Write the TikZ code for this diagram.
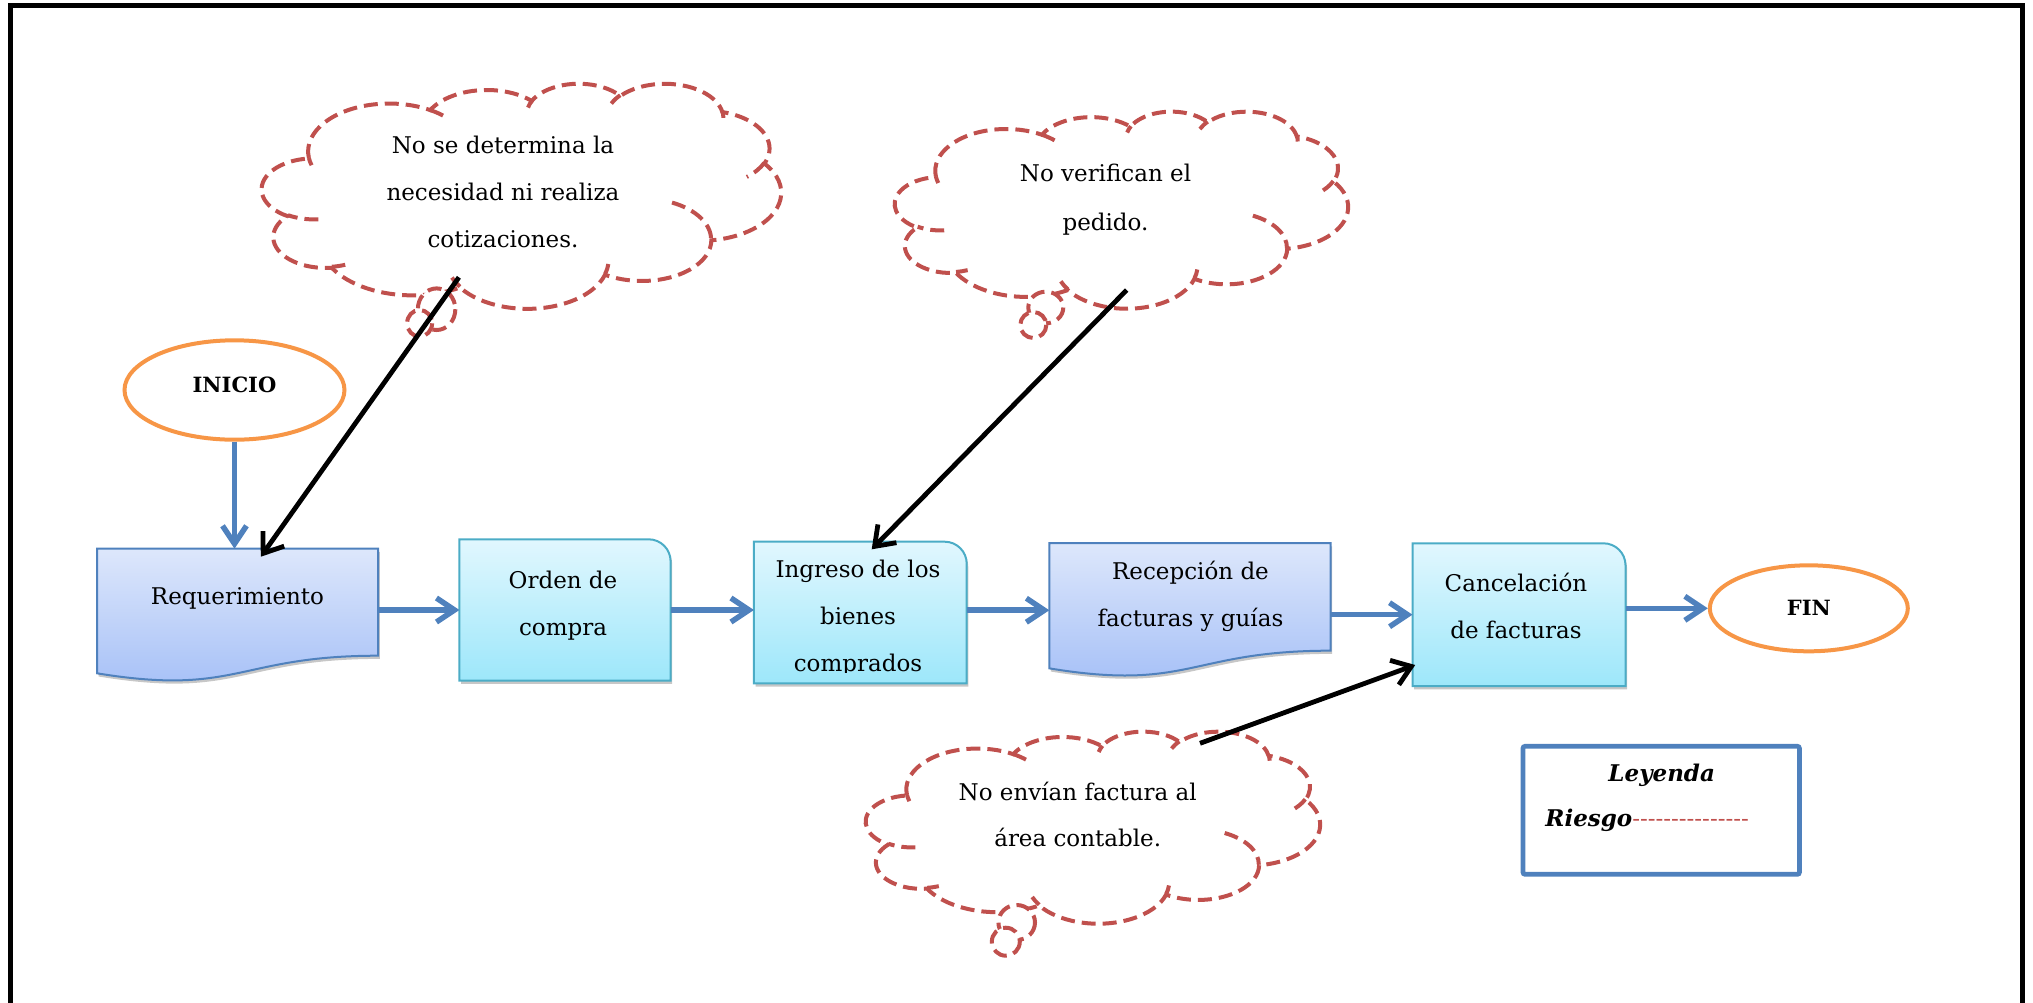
\documentclass[tikz,border=0pt]{standalone}
\usepackage{fontspec}
\setmainfont{DejaVu Serif}
\usetikzlibrary{arrows.meta,shapes.geometric,shadows,calc}

\definecolor{riskred}{HTML}{C0504D}
\definecolor{flowblue}{HTML}{4F81BD}
\definecolor{termorange}{HTML}{F79646}
\definecolor{doctop}{HTML}{DDE7FB}
\definecolor{docbot}{HTML}{A3BEF7}
\definecolor{procedge}{HTML}{4BACC6}
\definecolor{proctop}{HTML}{E1F7FE}
\definecolor{procbot}{HTML}{9DE7FA}

% one elliptical arc; start angle and sweep are visual angles
\newcommand\cloudarc[4]{%
  \pgfextra{%
    \pgfmathsetmacro\arcts{atan2((#1)*sin(#3),(#2)*cos(#3))}%
    \pgfmathsetmacro\arcte{atan2((#1)*sin((#3)+(#4)),(#2)*cos((#3)+(#4)))}%
    \pgfmathsetmacro\arcdt{mod(\arcte-\arcts+720,360)}%
    \global\let\arcts\arcts\global\let\arcdt\arcdt}%
  arc[start angle=\arcts, delta angle=\arcdt, x radius=#1, y radius=#2]}

% dashed thought cloud in the box (x0,y0) with width w and height h
\newcommand\riskcloud[4]{%
  \pgfmathsetmacro\cux{(#3)*0.5/43.2}%
  \pgfmathsetmacro\cuy{(#4)*0.5/43.2}%
  \begin{scope}[shift={(#1,#2)}, x=\cux pt, y=-\cuy pt]
    \path[cloudline, fill=white] (3.9,14.37)
      \cloudarc{6.753}{9.190}{-190.4875}{123.7805}
      \cloudarc{5.333}{7.267}{-144.1024}{89.9452}
      \cloudarc{4.365}{5.945}{-145.8079}{99.7230}
      \cloudarc{4.857}{6.595}{-130.9861}{117.2417}
      \cloudarc{5.333}{7.273}{-78.7089}{109.0269}
      \cloudarc{6.775}{9.220}{-46.2673}{130.2690}
      \cloudarc{5.785}{7.867}{0.6250}{114.0333}
      \cloudarc{6.752}{9.215}{22.4516}{115.1726}
      \cloudarc{7.720}{10.543}{66.2426}{75.7110}
      \cloudarc{4.360}{5.918}{-274.9421}{146.7356}
      \cloudarc{4.345}{5.945}{-246.8285}{152.5189}
      -- cycle;
    \path[cloudline]
      (4.693,26.177) \cloudarc{4.345}{5.945}{86.7420}{26.4295}
      (6.928,34.899) \cloudarc{4.360}{5.918}{73.6105}{11.4475}
      (16.478,39.090) \cloudarc{6.752}{9.215}{137.6242}{14.0811}
      (28.827,34.751) \cloudarc{6.752}{9.215}{6.4533}{15.9984}
      (34.129,22.954) \cloudarc{5.785}{7.867}{-70.2924}{70.9174}
      (41.798,15.354) \cloudarc{5.333}{7.273}{30.3180}{27.7515}
      (38.324,5.426) \cloudarc{4.857}{6.595}{-13.7443}{14.8589}
      (29.078,3.952) \cloudarc{4.857}{6.595}{-149.1815}{18.1954}
      (22.141,4.720) \cloudarc{4.365}{5.945}{-163.4943}{17.6864}
      (14.000,5.192) \cloudarc{6.753}{9.190}{-66.7070}{12.3194}
      (4.127,15.789) \cloudarc{6.753}{9.190}{157.6544}{11.8582};
  \end{scope}}

% flowchart document outline (wavy bottom) over a rectangular node
\newcommand\docoutline[1]{%
  (#1.north west) -- (#1.north east)
  -- ($(#1.north east)!0.802!(#1.south east)$)
  .. controls ($(#1.north)!0.802!(#1.south)$) and ($(#1.north)!1.1075!(#1.south)$)
  .. ($(#1.north west)!0.9339!(#1.south west)$) -- cycle}

% rectangle with one rounded (top right) corner
\newcommand\procoutline[1]{%
  (#1.south west) -- (#1.north west) -- ([xshift=-11pt]#1.north east)
  arc[start angle=90, end angle=0, radius=11pt] -- (#1.south east) -- cycle}

\newcommand\linesc[1]{\begin{tabular}[t]{@{}c@{}}#1\end{tabular}}

\tikzset{
  cloudline/.style={draw=riskred, line width=2pt, dash pattern=on 7pt off 3.5pt},
  flow/.style={draw=flowblue, line width=2.75pt, line join=miter,
    -{Straight Barb[length=9pt,width=12pt]}},
  risk/.style={draw=black, line width=2.4pt, line join=miter,
    -{Straight Barb[length=9pt,width=13pt]}},
  terminal/.style={ellipse, draw=termorange, line width=2pt, fill=white,
    inner sep=0pt, font=\fontsize{10.5}{12}\selectfont\bfseries},
  area/.style={rectangle, inner sep=0pt, outer sep=0pt},
  boxshadow/.style={drop shadow={shadow xshift=0.8pt, shadow yshift=-1.6pt,
    opacity=0.22, fill=black}},
  docfill/.style={draw=flowblue, line width=1pt, top color=doctop,
    bottom color=docbot, boxshadow},
  procfill/.style={draw=procedge, line width=1pt, top color=proctop,
    bottom color=procbot, boxshadow},
  lbl/.style={inner sep=0pt, anchor=base, font=\fontsize{11.5}{23.5}\selectfont},
}

\begin{document}
\begin{tikzpicture}[x=0.5pt, y=-0.5pt]
\useasboundingbox (0,0) rectangle (2033,1002);

% page frame (open at the bottom)
\draw[line width=2.5pt] (10.8,1010) -- (10.8,5.8) -- (2022.5,5.8) -- (2022.5,1010);

% risk clouds with their small tail bubbles
\riskcloud{262}{83}{519}{225}
\draw[cloudline, fill=white] (436.6,309.2) ellipse[x radius=18.75, y radius=20.8];
\draw[cloudline, fill=white] (419.6,323.3) ellipse[x radius=12.5, y radius=13.3];

\riskcloud{895}{111}{453}{197}
\draw[cloudline, fill=white] (1045.8,307.5) ellipse[x radius=17.5, y radius=15.8];
\draw[cloudline, fill=white] (1033.3,325) ellipse[x radius=13, y radius=13];

\riskcloud{866}{731}{454}{192}
\draw[cloudline, fill=white] (1016.7,922.5) ellipse[x radius=18.3, y radius=17.5];
\draw[cloudline, fill=white] (1005.8,941.7) ellipse[x radius=14, y radius=14];

\node[lbl] (c1) at (503,153.3) {\linesc{No se determina la\\necesidad ni realiza\\cotizaciones.}};
\node[lbl, font=\fontsize{11.5}{24.2}\selectfont] (c2) at (1105.5,181.7) {\linesc{No verifican el\\pedido.}};
\node[lbl, font=\fontsize{11.5}{23.3}\selectfont] (c3) at (1077.7,800) {\linesc{No envían factura al\\área contable.}};

% process boxes
\node[area, minimum width=140.6pt, minimum height=66.7pt] (req) at (237.6,615.4) {};
\node[area, minimum width=105.6pt, minimum height=70.7pt] (orden) at (565,610) {};
\node[area, minimum width=106.4pt, minimum height=70.8pt] (ingreso) at (860.3,612.5) {};
\node[area, minimum width=140.6pt, minimum height=67pt] (recep) at (1189.9,610.2) {};
\node[area, minimum width=106.5pt, minimum height=71.4pt] (cancel) at (1519,614.7) {};

\path[docfill] \docoutline{req};
\path[procfill] \procoutline{orden};
\path[procfill] \procoutline{ingreso};
\path[docfill] \docoutline{recep};
\path[procfill] \procoutline{cancel};

\node[lbl] (req-t) at (237.5,604) {Requerimiento};
\node[lbl] (orden-t) at (563,588.3) {\linesc{Orden de\\compra}};
\begin{scope}
  \clip (ingreso.north west) rectangle ($(ingreso.south east)+(0,-10.6)$);
  \node[lbl] (ingreso-t) at (858,577.3) {\linesc{Ingreso de los\\bienes\\comprados}};
\end{scope}
\node[lbl] (recep-t) at (1190.5,579.3) {\linesc{Recepción de\\facturas y guías}};
\node[lbl] (cancel-t) at (1516,591.7) {\linesc{Cancelación\\de facturas}};

% start and end
\node[terminal, minimum width=110pt, minimum height=49.7pt, text depth=5pt] (inicio) at (234.5,390) {INICIO};
\node[terminal, minimum width=99pt, minimum height=43pt] (fin) at (1808.8,608.3) {FIN};

% main flow
\draw[flow] (inicio.south) -- (inicio.south |- req.north);
\draw[flow] (req.east |- orden.west) -- (orden.west);
\draw[flow] (orden.east) -- (orden.east -| ingreso.west);
\draw[flow] (ingreso.east |- recep.west) -- (recep.west);
\draw[flow] (recep.east |- cancel.west) -- (cancel.west);
\draw[flow] (cancel.east |- fin.west) -- (fin.west);

% risk pointers
\coordinate (r1) at (458.9,277.3);  \coordinate (t1) at (260.8,556.7);
\coordinate (r2) at (1126.7,290);   \coordinate (t2) at (871.7,549.3);
\coordinate (r3) at (1200,743.3);   \coordinate (t3) at (1415.2,665);
\draw[risk] (r1) -- (t1);
\draw[risk] (r2) -- (t2);
\draw[risk] (r3) -- (t3);

% legend
\node[draw=flowblue, line width=2.35pt, rounded corners=1pt, minimum width=138.2pt,
      minimum height=64pt, inner sep=0pt] (legend) at (1661.2,810.3) {};
\node[lbl, font=\fontsize{11.5}{14}\selectfont\bfseries\itshape] (leg-title) at (1661.7,781.7) {Leyenda};
\node[lbl, anchor=base west, font=\fontsize{11.5}{14}\selectfont\bfseries\itshape] (leg-risk) at (1545,826.7)
  {Riesgo{\mdseries\upshape\color{riskred}-\kern0pt-\kern0pt-\kern0pt-\kern0pt-\kern0pt-\kern0pt-\kern0pt-\kern0pt-\kern0pt-\kern0pt-\kern0pt-\kern0pt-\kern0pt-\kern0pt-}};
\end{tikzpicture}
\end{document}
